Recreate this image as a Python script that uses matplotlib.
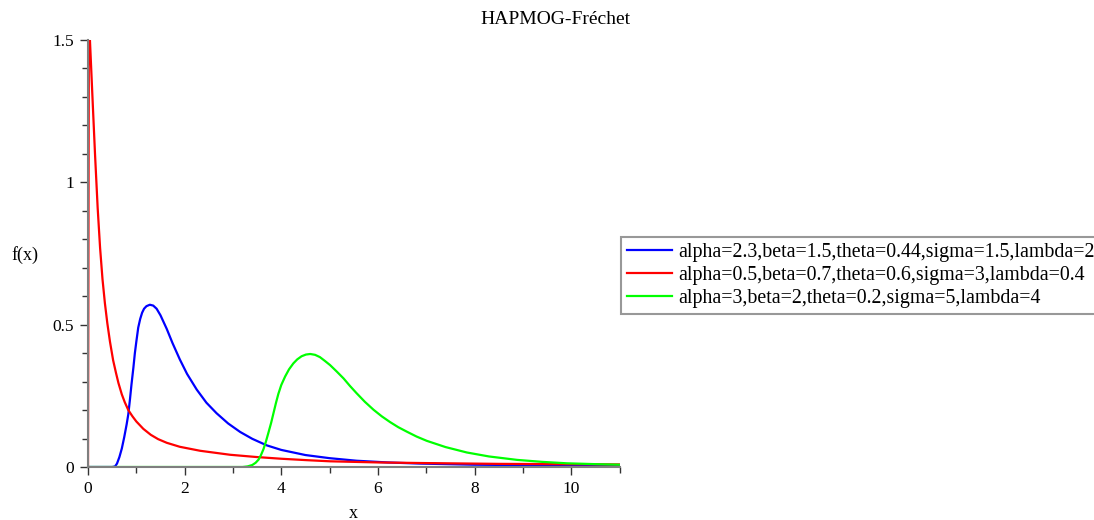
import matplotlib
matplotlib.use('Agg')
import matplotlib.pyplot as plt
from matplotlib.ticker import MultipleLocator

# curves
x_blue = [0.0, 0.50, 0.56, 0.60, 0.65, 0.70, 0.75, 0.80, 0.834, 0.87, 0.90, 0.94, 0.97, 1.00,
          1.04, 1.08, 1.12, 1.16, 1.21, 1.28, 1.35, 1.42, 1.50, 1.63, 1.75, 1.90, 2.05, 2.25,
          2.45, 2.66, 2.90, 3.15, 3.40, 3.70, 4.0, 4.5, 5.0, 5.56, 6.2, 6.87, 8.0, 9.5, 11.0]
y_blue = [0.0, 0.0, 0.002, 0.012, 0.035, 0.065, 0.105, 0.150, 0.185, 0.240, 0.290, 0.350, 0.400, 0.440,
          0.490, 0.520, 0.542, 0.556, 0.565, 0.570, 0.567, 0.556, 0.533, 0.485, 0.435, 0.378, 0.327, 0.272,
          0.226, 0.189, 0.153, 0.123, 0.099, 0.076, 0.060, 0.042, 0.031, 0.022, 0.016, 0.012, 0.008, 0.006, 0.004]

x_red = [0.0, 0.02, 0.04, 0.10, 0.145, 0.20, 0.25, 0.30, 0.35, 0.40, 0.455, 0.52, 0.58, 0.63,
         0.70, 0.76, 0.834, 0.92, 1.0, 1.145, 1.3, 1.45, 1.63, 1.9, 2.32, 2.94, 3.49, 4.0,
         4.53, 5.01, 6.0, 6.87, 8.5, 11.0]
y_red = [0.0, 1.75, 1.50, 1.27, 1.10, 0.91, 0.77, 0.66, 0.575, 0.505, 0.44, 0.375, 0.33, 0.295,
         0.255, 0.228, 0.200, 0.178, 0.160, 0.134, 0.113, 0.098, 0.085, 0.071, 0.057, 0.043, 0.035, 0.029,
         0.024, 0.020, 0.016, 0.014, 0.011, 0.009]

x_green = [0.0, 3.20, 3.30, 3.40, 3.47, 3.53, 3.58, 3.63, 3.68, 3.73, 3.79, 3.84, 3.89, 3.94,
           4.00, 4.08, 4.16, 4.25, 4.33, 4.42, 4.51, 4.60, 4.70, 4.80, 4.90, 5.01, 5.15, 5.29,
           5.42, 5.56, 5.73, 5.91, 6.08, 6.25, 6.42, 6.60, 6.80, 7.01, 7.40, 7.84, 8.3, 8.88,
           9.4, 9.91, 10.5, 11.0]
y_green = [0.0, 0.0, 0.002, 0.007, 0.015, 0.026, 0.042, 0.062, 0.088, 0.118, 0.155, 0.190, 0.225, 0.257,
           0.288, 0.318, 0.343, 0.364, 0.378, 0.389, 0.395, 0.397, 0.394, 0.386, 0.373, 0.358, 0.335, 0.311,
           0.285, 0.259, 0.229, 0.201, 0.178, 0.158, 0.140, 0.124, 0.107, 0.092, 0.070, 0.051, 0.037, 0.025,
           0.018, 0.013, 0.010, 0.008]

labels = ['alpha=2.3,beta=1.5,theta=0.44,sigma=1.5,lambda=2',
          'alpha=0.5,beta=0.7,theta=0.6,sigma=3,lambda=0.4',
          'alpha=3,beta=2,theta=0.2,sigma=5,lambda=4']

plt.rcParams['font.family'] = ['Liberation Serif', 'DejaVu Serif']

fig = plt.figure(figsize=(10.94, 5.2), dpi=100)
ax = fig.add_axes([88/1094, 53/520, 531.5/1094, 427/520])

ax.plot(x_blue, y_blue, color='#0000ff', lw=1.6, label=labels[0])
ax.plot(x_red, y_red, color='#ff0000', lw=1.6, label=labels[1])
ax.plot(x_green, y_green, color='#00ff00', lw=1.6, label=labels[2])

ax.set_xlim(0, 11)
ax.set_ylim(0, 1.5)
ax.xaxis.set_major_locator(MultipleLocator(2))
ax.xaxis.set_minor_locator(MultipleLocator(1))
ax.yaxis.set_minor_locator(MultipleLocator(0.1))
ax.set_yticks([0, 0.5, 1, 1.5])
ax.set_yticklabels(['0', '0.5', '1', '1.5'])

for s in ['top', 'right']:
    ax.spines[s].set_visible(False)
for s in ['left', 'bottom']:
    ax.spines[s].set_color('#7f7f7f')
    ax.spines[s].set_linewidth(1.5)
ax.tick_params(which='major', direction='out', length=6, width=1, color='#333333', labelsize=12.5, pad=4)
ax.tick_params(which='minor', direction='out', length=4, width=1, color='#333333')

fig.text(0.508, 1 - 19/520, 'HAPMOG-Fréchet', ha='center', va='center', fontsize=14)
fig.text(25/1094, 1 - 255/520, 'f(x)', ha='center', va='center', fontsize=13)
fig.text(353/1094, 1 - 513/520, 'x', ha='center', va='center', fontsize=13)

leg = fig.legend(loc='upper left', bbox_to_anchor=(620.7/1094, 1 - 237.3/520), fontsize=14.3,
                 frameon=True, fancybox=False, handlelength=2.27, handletextpad=0.32,
                 borderpad=0.3, labelspacing=0.2, borderaxespad=0)
leg.get_frame().set_edgecolor('#7f7f7f')
leg.get_frame().set_linewidth(1.5)

fig.savefig('out.png', dpi=100)
